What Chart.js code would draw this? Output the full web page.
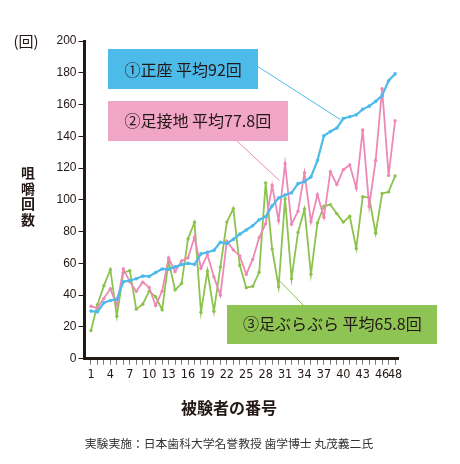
<!DOCTYPE html>
<html><head><meta charset="utf-8">
<script src="https://cdn.jsdelivr.net/npm/chart.js@4.4.1/dist/chart.umd.min.js"></script>
<style>html,body{margin:0;padding:0;background:#fff;}#wrap{position:relative;width:460px;height:464px;}</style>
</head><body><div id="wrap"><canvas id="c" width="460" height="464"></canvas></div>
<script>
const subjects = [1,2,3,4,5,6,7,8,9,10,11,12,13,14,15,16,17,18,19,20,21,22,23,24,25,26,27,28,29,30,31,32,33,34,35,36,37,38,39,40,41,42,43,44,45,46,47,48];
const seiza = [30,29.5,35.2,36.6,37.5,48.4,49.2,50.3,52,51.8,54.3,56.5,56.3,57.8,59.2,60,59.4,66,67,68.3,73.3,72.5,75.1,78.4,81,83.7,87.5,89.4,96.2,101.2,103.1,104.4,110.2,111.5,114.4,124.7,140.3,143,145.2,151.2,152.3,153.5,157,159,162,165.6,175,179.3];
const sokusetchi = [33,32,38,44,33.5,56.5,48.5,42.5,48.2,44.8,33.5,42.5,63.5,54.8,61.5,63.5,76.5,57,65.5,51.5,40,74,68.5,64.7,53.2,62.5,76.3,85,109,87,122.8,84.7,92.8,117,86.2,103.3,89,117.7,109.6,119,122,107.5,144,96,124.8,170,115.4,149.8];
const burabura = [17.7,34,46,56,26.8,54.2,55.4,31.2,34.3,42.5,39,30.8,61.5,43.3,47.3,75.5,85.8,29.3,55.2,29.8,57.8,86,94.5,58.8,44.7,45.6,54.4,110.7,69,45.3,100.7,50.4,79.5,94.2,53.2,85.4,96,97,91.3,86,89.7,69.4,102,101.5,79,104,105,115];
const xTickLabels = [1,4,7,10,13,16,19,22,25,28,31,34,37,40,43,46,48];
const seriesNames = ['①正座 平均92回','②足接地 平均77.8回','③足ぶらぶら 平均65.8回'];
const yTitle = ['咀','嚼','回','数'];
const yUnit = '(回)';
const xTitle = '被験者の番号';
const footer = '実験実施：日本歯科大学名誉教授 歯学博士 丸茂義二氏';

const BLUE = '#4dbbea', PINK = '#ee88b6', GREEN = '#8cc34e';
const DARK = '#231815';
const CJK = '"Noto Sans CJK JP", "Noto Sans", sans-serif';

const toXY = arr => subjects.map((s, i) => ({x: s, y: arr[i]}));

const annot = {
  id: 'annot',
  afterDatasetsDraw(chart) {
    const ctx = chart.ctx;
    const xs = chart.scales.x, ys = chart.scales.y;
    ctx.save();
    // connector lines
    ctx.lineWidth = 1;
    ctx.strokeStyle = BLUE;
    ctx.beginPath(); ctx.moveTo(257, 66); ctx.lineTo(xs.getPixelForValue(40) - 3, ys.getPixelForValue(seiza[39]) + 1); ctx.stroke();
    ctx.strokeStyle = PINK;
    ctx.beginPath(); ctx.moveTo(236, 140); ctx.lineTo(xs.getPixelForValue(30) + 1, ys.getPixelForValue(112)); ctx.stroke();
    ctx.strokeStyle = GREEN;
    ctx.beginPath(); ctx.moveTo(xs.getPixelForValue(30) + 1, ys.getPixelForValue(49)); ctx.lineTo(303, 305); ctx.stroke();
    // boxes
    const boxes = [
      {x:108, y:49, w:150, h:40, c:BLUE, t:seriesNames[0], tx:124.5, ty:69.5},
      {x:108, y:101, w:180, h:40, c:'#f1a5c7', t:seriesNames[1], tx:124.5, ty:121},
      {x:227, y:305, w:210, h:39, c:'#8dc453', t:seriesNames[2], tx:243, ty:324}
    ];
    ctx.textBaseline = 'middle';
    ctx.textAlign = 'left';
    ctx.font = '16px ' + CJK;
    for (const b of boxes) {
      ctx.fillStyle = b.c;
      ctx.fillRect(b.x, b.y, b.w, b.h);
      ctx.fillStyle = DARK;
      ctx.fillText(b.t, b.tx, b.ty);
    }
    // axis titles
    ctx.textAlign = 'center';
    ctx.font = 'bold 14px ' + CJK;
    yTitle.forEach((ch, i) => ctx.fillText(ch, 28, 173 + i * 15.5));
    ctx.font = '15px ' + CJK;
    ctx.fillText(yUnit, 26, 41);
    ctx.font = 'bold 16px ' + CJK;
    ctx.fillText(xTitle, 229, 408);
    ctx.font = '11.8px ' + CJK;
    ctx.fillStyle = '#333';
    ctx.fillText(footer, 229, 443.5);
    ctx.restore();
  }
};

new Chart(document.getElementById('c'), {
  type: 'line',
  data: {
    datasets: [
      {data: toXY(seiza), borderColor: BLUE, backgroundColor: BLUE, borderWidth: 2.2, pointRadius: 1.8, pointBorderWidth: 0, tension: 0},
      {data: toXY(sokusetchi), borderColor: PINK, backgroundColor: PINK, borderWidth: 1.8, pointRadius: 1.7, pointBorderWidth: 0, tension: 0},
      {data: toXY(burabura), borderColor: GREEN, backgroundColor: GREEN, borderWidth: 1.8, pointRadius: 1.7, pointBorderWidth: 0, tension: 0}
    ]
  },
  options: {
    responsive: false,
    animation: false,
    events: [],
    layout: {padding: {left: 0, right: 61.7, top: 41, bottom: 0}},
    plugins: {legend: {display: false}, tooltip: {enabled: false}},
    scales: {
      x: {
        type: 'linear', min: 0, max: 48.5,
        afterBuildTicks: s => { s.ticks = subjects.map(v => ({value: v})); },
        afterFit: s => { s.height = 105.3; },
        ticks: {
          autoSkip: false, maxRotation: 0, minRotation: 0, padding: 3, color: DARK,
          font: {family: '"Liberation Sans Narrow", "DejaVu Sans Condensed", sans-serif', size: 12.5},
          callback: v => xTickLabels.includes(v) ? String(v) : ''
        },
        grid: {drawOnChartArea: false, drawTicks: true, tickLength: 6, color: '#777', lineWidth: 1},
        border: {display: true, color: DARK, width: 3}
      },
      y: {
        min: 0, max: 200,
        afterFit: s => { s.width = 84.5; },
        ticks: {stepSize: 20, padding: 2, color: DARK, font: {family: '"Liberation Sans", Arial, sans-serif', size: 12}},
        grid: {drawOnChartArea: false, drawTicks: true, tickLength: 6, color: DARK, lineWidth: 1},
        border: {display: true, color: DARK, width: 3}
      }
    }
  },
  plugins: [annot]
});
</script></body></html>
